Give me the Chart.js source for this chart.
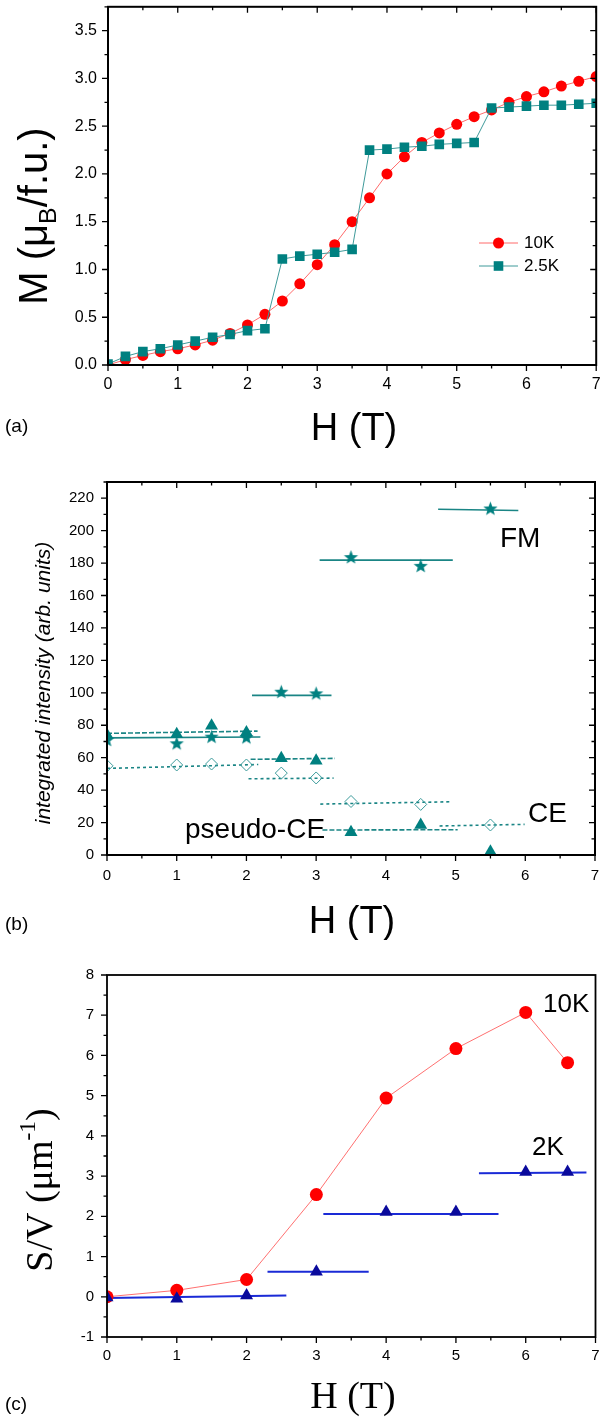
<!DOCTYPE html>
<html>
<head>
<meta charset="utf-8">
<script src="https://cdn.jsdelivr.net/npm/chart.js@4.4.1/dist/chart.umd.min.js"></script>
<style>
  html, body { margin: 0; padding: 0; background: #fff; }
  #wrap { position: relative; width: 603px; height: 1420px; overflow: hidden; }
  canvas { position: absolute; left: 0; }
</style>
</head>
<body>
<div id="wrap">
  <canvas id="panelA" width="603" height="460" style="top:0px"></canvas>
  <canvas id="panelB" width="603" height="480" style="top:460px"></canvas>
  <canvas id="panelC" width="603" height="480" style="top:940px"></canvas>
</div>
<script>
// ---- panel (a): M(H) ----
const fieldA = [0, 0.25, 0.5, 0.75, 1, 1.25, 1.5, 1.75, 2, 2.25, 2.5, 2.75, 3, 3.25, 3.5, 3.75, 4, 4.25, 4.5, 4.75, 5, 5.25, 5.5, 5.75, 6, 6.25, 6.5, 6.75, 7];
const m10K = [0, 0.056, 0.10, 0.14, 0.17, 0.21, 0.26, 0.33, 0.42, 0.53, 0.67, 0.85, 1.05, 1.26, 1.50, 1.75, 2.00, 2.18, 2.33, 2.43, 2.52, 2.60, 2.67, 2.75, 2.81, 2.86, 2.92, 2.97, 3.02];
const m25K = [0.01, 0.09, 0.14, 0.17, 0.21, 0.25, 0.29, 0.32, 0.36, 0.38, 1.11, 1.14, 1.16, 1.18, 1.21, 2.25, 2.26, 2.28, 2.29, 2.31, 2.32, 2.33, 2.69, 2.70, 2.71, 2.72, 2.72, 2.73, 2.74];
const aXTicks = [0, 1, 2, 3, 4, 5, 6, 7];
const aYTicks = [0, 0.5, 1, 1.5, 2, 2.5, 3, 3.5];

// ---- panel (b): integrated intensity ----
const fieldB = [0, 1, 1.5, 2, 2.5, 3, 3.5, 4.5, 5.5];
const fmInt = [71.3, 69.2, 73.3, 72.9, 101, 100, 184, 178.6, 214];
const pceInt = [74, 74.4, 79.7, 75.6, 59.6, 58.1, 14, 18.5, 2];
const ceInt = [55, 55.5, 56.1, 55.5, 50.5, 47.5, 33, 31.2, 18.5];
// averaged levels drawn as horizontal bars
const fmSegFrom = [0, 2.08, 3.05, 4.75];
const fmSegTo = [2.2, 3.22, 4.96, 5.9];
const fmSegY0 = [72.2, 98.4, 181.8, 213.2];
const fmSegY1 = [72.8, 98.4, 181.8, 212.4];
const pceSegFrom = [0, 2.06, 3.09];
const pceSegTo = [2.16, 3.27, 5.03];
const pceSegY0 = [75, 59, 15.4];
const pceSegY1 = [76.4, 59.6, 15.6];
const ceSegFrom = [0, 2.03, 3.06, 4.77];
const ceSegTo = [2.17, 3.25, 4.92, 5.99];
const ceSegY0 = [53.4, 47, 31.4, 17.9];
const ceSegY1 = [55.8, 47.4, 32.8, 18.9];
const bXTicks = [0, 1, 2, 3, 4, 5, 6, 7];
const bYTicks = [0, 20, 40, 60, 80, 100, 120, 140, 160, 180, 200, 220];

// ---- panel (c): S/V ----
const fieldC = [0, 1, 2, 3, 4, 5, 6, 6.6];
const sv10K = [0, 0.16, 0.43, 2.54, 4.94, 6.17, 7.07, 5.82];
const sv2K = [-0.02, -0.05, 0.03, 0.62, 2.11, 2.11, 3.1, 3.1];
const sv2KSegFrom = [0, 2.3, 3.1, 5.33];
const sv2KSegTo = [2.57, 3.75, 5.61, 6.87];
const sv2KSegY0 = [-0.03, 0.62, 2.06, 3.07];
const sv2KSegY1 = [0.03, 0.62, 2.06, 3.09];
const cXTicks = [0, 1, 2, 3, 4, 5, 6, 7];
const cYTicks = [-1, 0, 1, 2, 3, 4, 5, 6, 7, 8];

const sans = '"Liberation Sans", Arial, sans-serif';
const serif = '"Liberation Serif", "Times New Roman", serif';
const teal = '#008080';

function pts(xs, ys) {
  return xs.map((x, i) => ({ x: x, y: ys[i] }));
}

function segments(from, to, y0, y1, style) {
  return from.map((f, i) => Object.assign({
    data: [{ x: f, y: y0[i] }, { x: to[i], y: y1[i] }],
    showLine: true, pointRadius: 0, order: 5, clip: 0
  }, style));
}

function starImage(r, color) {
  const c = document.createElement('canvas');
  c.width = c.height = Math.ceil(r * 2 + 2);
  const g = c.getContext('2d');
  const m = c.width / 2;
  g.beginPath();
  for (let i = 0; i < 10; i++) {
    const rad = i % 2 ? r * 0.42 : r;
    const ang = -Math.PI / 2 + i * Math.PI / 5;
    g.lineTo(m + rad * Math.cos(ang), m + 1 + rad * Math.sin(ang));
  }
  g.closePath();
  g.fillStyle = color;
  g.fill();
  return c;
}

function axis(tickVals, o) {
  return {
    type: 'linear',
    min: o.min,
    max: o.max,
    afterBuildTicks: s => { s.ticks = tickVals.map(v => ({ value: v })); },
    afterFit: s => {
      if (s.isHorizontal()) s.height = o.size; else s.width = o.size;
      s.paddingLeft = s.paddingRight = s.paddingTop = s.paddingBottom = 0;
    },
    grid: { display: false, drawTicks: false },
    border: { display: false },
    ticks: {
      color: '#000', padding: o.pad, maxRotation: 0, autoSkip: false,
      font: { family: sans, size: o.font },
      callback: o.fmt || (v => String(v))
    }
  };
}

// frame + major/minor tick marks, placed through the scales
const frameTicks = {
  id: 'frameTicks',
  afterDatasetsDraw(chart, args, o) {
    const { ctx, chartArea: a } = chart;
    const sx = chart.scales.x, sy = chart.scales.y;
    ctx.save();
    ctx.strokeStyle = '#000';
    ctx.lineWidth = o.frame;
    ctx.strokeRect(a.left, a.top, a.right - a.left, a.bottom - a.top);
    ctx.lineWidth = 1.3;
    ctx.beginPath();
    const mark = (scale, step, len, sides) => {
      for (let v = scale.min; v <= scale.max + 1e-9; v += step) {
        const p = scale.getPixelForValue(v);
        sides.forEach(sd => {
          const d = sd[1] === 'out' ? len : -len;
          if (sd[0] === 'bottom') { ctx.moveTo(p, a.bottom); ctx.lineTo(p, a.bottom + d); }
          if (sd[0] === 'top') { ctx.moveTo(p, a.top); ctx.lineTo(p, a.top - d); }
          if (sd[0] === 'left') { ctx.moveTo(a.left, p); ctx.lineTo(a.left - d, p); }
          if (sd[0] === 'right') { ctx.moveTo(a.right, p); ctx.lineTo(a.right + d, p); }
        });
      }
    };
    mark(sx, o.xMinor, 3.5, o.xSides);
    mark(sx, o.xMajor, 6, o.xSides);
    mark(sy, o.yMinor, 3.5, o.ySides);
    mark(sy, o.yMajor, 6, o.ySides);
    ctx.stroke();
    ctx.restore();
  }
};

function drawText(ctx, it) {
  ctx.save();
  ctx.translate(it.x, it.y);
  if (it.rotate) ctx.rotate(it.rotate);
  const parts = it.parts || [{ t: it.text }];
  const fonts = parts.map(p => (it.style || '') + ' ' + ((p.sub || p.sup) ? it.size * 0.62 : it.size) + 'px ' + (it.family || sans));
  let total = 0;
  const widths = parts.map((p, i) => { ctx.font = fonts[i]; const w = ctx.measureText(p.t).width; total += w; return w; });
  let cx = it.align === 'center' ? -total / 2 : 0;
  ctx.textAlign = 'left';
  ctx.textBaseline = it.baseline || 'alphabetic';
  ctx.fillStyle = '#000';
  parts.forEach((p, i) => {
    ctx.font = fonts[i];
    const dy = p.sub ? it.size * 0.22 : (p.sup ? -it.size * 0.45 : 0);
    ctx.fillText(p.t, cx, dy);
    cx += widths[i];
  });
  ctx.restore();
}

const annotate = {
  id: 'annotate',
  afterDraw(chart, args, o) {
    const ctx = chart.ctx;
    (o.texts || []).forEach(it => drawText(ctx, it));
    (o.legend || []).forEach(e => {
      ctx.save();
      ctx.strokeStyle = e.line;
      ctx.lineWidth = 1;
      ctx.beginPath();
      ctx.moveTo(e.x0, e.y); ctx.lineTo(e.x1, e.y);
      ctx.stroke();
      ctx.fillStyle = e.fill;
      const mx = (e.x0 + e.x1) / 2;
      if (e.shape === 'circle') {
        ctx.beginPath(); ctx.arc(mx, e.y, 5.5, 0, Math.PI * 2); ctx.fill();
      } else {
        ctx.fillRect(mx - 4.8, e.y - 4.8, 9.6, 9.6);
      }
      ctx.restore();
      drawText(ctx, { text: e.label, x: e.x1 + 6, y: e.y, size: 17, baseline: 'middle' });
    });
  }
};

function baseOptions(pad, scales, frameOpts, annOpts) {
  return {
    responsive: false,
    animation: false,
    layout: { padding: pad },
    scales: scales,
    plugins: {
      legend: { display: false },
      tooltip: { enabled: false },
      frameTicks: frameOpts,
      annotate: annOpts
    }
  };
}

// ---------- chart (a) ----------
new Chart(document.getElementById('panelA'), {
  type: 'scatter',
  data: {
    datasets: [
      {
        label: '10K', data: pts(fieldA, m10K), showLine: true, order: 2, clip: 0,
        borderColor: '#ff6a6a', borderWidth: 1,
        pointStyle: 'circle', pointRadius: 5.5, pointBackgroundColor: '#ff0000', pointBorderWidth: 0
      },
      {
        label: '2.5K', data: pts(fieldA, m25K), showLine: true, order: 1, clip: 0,
        borderColor: '#3f9a9a', borderWidth: 1,
        pointStyle: 'rect', pointRadius: 6.8, pointBackgroundColor: teal, pointBorderWidth: 0
      }
    ]
  },
  options: baseOptions(
    { top: 6, right: 4, left: 0, bottom: 0 },
    {
      x: axis(aXTicks, { min: 0, max: 7, size: 95, pad: 10, font: 16 }),
      y: axis(aYTicks, { min: 0, max: 3.75, size: 108, pad: 11, font: 16, fmt: v => v.toFixed(1) })
    },
    { frame: 2, xMajor: 1, xMinor: 0.5, yMajor: 0.5, yMinor: 0.25,
      xSides: [['bottom', 'out'], ['top', 'in']], ySides: [['left', 'out'], ['right', 'in']] },
    {
      texts: [
        { parts: [{ t: 'M (\u03bc' }, { t: 'B', sub: true }, { t: '/f.u.)' }], x: 47, y: 216, size: 40, align: 'center', rotate: -Math.PI / 2 },
        { text: 'H (T)', x: 354, y: 440, size: 38, align: 'center' },
        { text: '(a)', x: 5, y: 427, size: 19, baseline: 'middle' }
      ],
      legend: [
        { label: '10K', x0: 479, x1: 518, y: 243, line: '#ff6a6a', fill: '#ff0000', shape: 'circle' },
        { label: '2.5K', x0: 479, x1: 518, y: 266, line: '#3f9a9a', fill: teal, shape: 'rect' }
      ]
    }
  ),
  plugins: [frameTicks, annotate]
});

// ---------- chart (b) ----------
const star = starImage(7.5, teal);
new Chart(document.getElementById('panelB'), {
  type: 'scatter',
  data: {
    datasets: [
      { label: 'FM', data: pts(fieldB, fmInt), order: 1, clip: 0, pointStyle: star, pointRadius: 7 },
      { label: 'pseudo-CE', data: pts(fieldB, pceInt), order: 1, clip: 0, pointStyle: 'triangle', pointRadius: 7.5, pointBackgroundColor: teal, pointBorderColor: teal, pointBorderWidth: 0 },
      { label: 'CE', data: pts(fieldB, ceInt), order: 1, clip: 0, pointStyle: 'rectRot', pointRadius: 6, pointBackgroundColor: 'rgba(255,255,255,0)', pointBorderColor: '#3a9a9a', pointBorderWidth: 1 }
    ]
      .concat(segments(fmSegFrom, fmSegTo, fmSegY0, fmSegY1, { borderColor: '#1a8585', borderWidth: 1.6 }))
      .concat(segments(pceSegFrom, pceSegTo, pceSegY0, pceSegY1, { borderColor: '#1a8585', borderWidth: 1.6, borderDash: [5, 2] }))
      .concat(segments(ceSegFrom, ceSegTo, ceSegY0, ceSegY1, { borderColor: '#1a8585', borderWidth: 1.6, borderDash: [3, 3] }))
  },
  options: baseOptions(
    { top: 22, right: 4, left: 0, bottom: 0 },
    {
      x: axis(bXTicks, { min: 0, max: 7, size: 85, pad: 12, font: 15 }),
      y: axis(bYTicks, { min: 0, max: 230, size: 107, pad: 13, font: 15 })
    },
    { frame: 2, xMajor: 1, xMinor: 0.5, yMajor: 20, yMinor: 10,
      xSides: [['bottom', 'out'], ['top', 'in']], ySides: [['left', 'out'], ['right', 'in']] },
    {
      texts: [
        { text: 'integrated intensity (arb. units)', x: 50, y: 223, size: 21, style: 'italic', align: 'center', rotate: -Math.PI / 2 },
        { text: 'H (T)', x: 352, y: 473, size: 38, align: 'center' },
        { text: '(b)', x: 5, y: 465, size: 19, baseline: 'middle' },
        { text: 'FM', x: 500, y: 87, size: 28 },
        { text: 'pseudo-CE', x: 185, y: 378, size: 28 },
        { text: 'CE', x: 528, y: 362, size: 28 }
      ]
    }
  ),
  plugins: [frameTicks, annotate]
});

// ---------- chart (c) ----------
new Chart(document.getElementById('panelC'), {
  type: 'scatter',
  data: {
    datasets: [
      {
        label: '10K', data: pts(fieldC, sv10K), showLine: true, order: 2, clip: 0,
        borderColor: '#ff7070', borderWidth: 1,
        pointStyle: 'circle', pointRadius: 6.5, pointBackgroundColor: '#ff0000', pointBorderWidth: 0
      },
      {
        label: '2K', data: pts(fieldC, sv2K), order: 1, clip: 0,
        pointStyle: 'triangle', pointRadius: 7.5, pointBackgroundColor: '#0a0a9c', pointBorderColor: '#0a0a9c', pointBorderWidth: 0
      }
    ].concat(segments(sv2KSegFrom, sv2KSegTo, sv2KSegY0, sv2KSegY1, { borderColor: '#1a2ad6', borderWidth: 2 }))
  },
  options: baseOptions(
    { top: 35, right: 4, left: 0, bottom: 0 },
    {
      x: axis(cXTicks, { min: 0, max: 7, size: 83, pad: 10, font: 15 }),
      y: axis(cYTicks, { min: -1, max: 8, size: 107, pad: 13, font: 15 })
    },
    { frame: 1.8, xMajor: 1, xMinor: 0.5, yMajor: 1, yMinor: 0.5,
      xSides: [['bottom', 'out']], ySides: [['left', 'out']] },
    {
      texts: [
        { parts: [{ t: 'S/V (\u03bcm' }, { t: '-1', sup: true }, { t: ')' }], x: 52, y: 250, size: 38, family: serif, align: 'center', rotate: -Math.PI / 2 },
        { text: 'H (T)', x: 353, y: 468, size: 38, family: serif, align: 'center' },
        { text: '(c)', x: 5, y: 465, size: 19, baseline: 'middle' },
        { text: '10K', x: 543, y: 72, size: 26 },
        { text: '2K', x: 532, y: 215, size: 26 }
      ]
    }
  ),
  plugins: [frameTicks, annotate]
});
</script>
</body>
</html>
